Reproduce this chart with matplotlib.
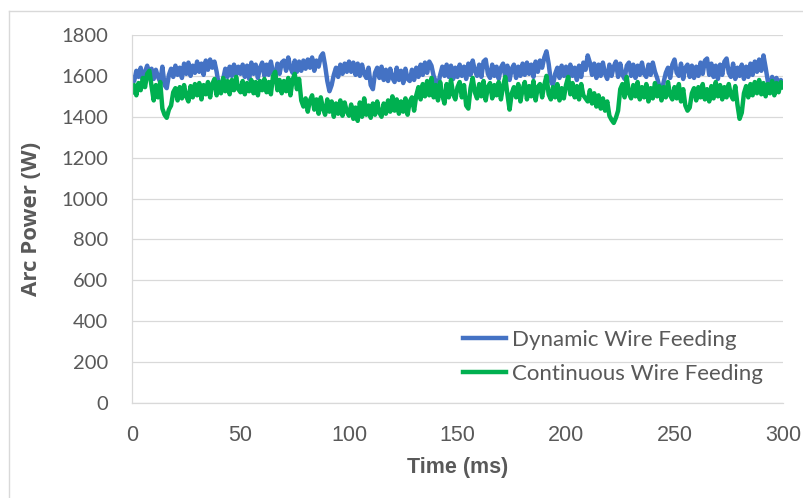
import numpy as np
import matplotlib
matplotlib.use("Agg")
import matplotlib.pyplot as plt
from matplotlib.lines import Line2D

dynamic_000 = [1590, 1575, 1625, 1595, 1640, 1580, 1620, 1650, 1600, 1635,
               1585, 1630, 1595, 1570, 1645, 1555, 1540, 1605, 1635, 1595,
               1650, 1605, 1640, 1590, 1660, 1610, 1665, 1600, 1650, 1615,
               1670, 1620, 1660, 1605, 1675, 1630, 1680, 1640, 1670, 1620,
               1555, 1540, 1585, 1635, 1595, 1645, 1600, 1655, 1605, 1645]
dynamic_050 = [1610, 1655, 1595, 1650, 1585, 1665, 1610, 1655, 1590, 1640,
               1665, 1600, 1655, 1605, 1670, 1615, 1595, 1660, 1610, 1665,
               1675, 1625, 1690, 1640, 1615, 1675, 1620, 1670, 1625, 1675,
               1635, 1680, 1640, 1690, 1625, 1675, 1645, 1695, 1710, 1650,
               1575, 1525, 1555, 1605, 1640, 1595, 1655, 1610, 1660, 1620]
dynamic_100 = [1670, 1620, 1665, 1605, 1660, 1600, 1655, 1610, 1590, 1640,
               1555, 1535, 1615, 1640, 1590, 1645, 1580, 1630, 1575, 1635,
               1590, 1570, 1640, 1580, 1625, 1565, 1635, 1585, 1575, 1630,
               1580, 1640, 1595, 1655, 1605, 1665, 1615, 1670, 1650, 1600,
               1570, 1550, 1605, 1645, 1600, 1655, 1595, 1650, 1585, 1640]
dynamic_150 = [1595, 1655, 1600, 1645, 1585, 1660, 1605, 1675, 1625, 1600,
               1655, 1595, 1670, 1680, 1610, 1590, 1655, 1600, 1645, 1585,
               1640, 1660, 1595, 1650, 1580, 1635, 1655, 1590, 1645, 1600,
               1660, 1605, 1665, 1610, 1655, 1595, 1670, 1620, 1675, 1640,
               1690, 1720, 1660, 1575, 1555, 1610, 1640, 1590, 1650, 1600]
dynamic_200 = [1645, 1585, 1655, 1600, 1640, 1580, 1650, 1595, 1665, 1630,
               1700, 1665, 1605, 1660, 1590, 1655, 1600, 1665, 1610, 1585,
               1655, 1600, 1645, 1670, 1595, 1660, 1605, 1585, 1650, 1665,
               1600, 1655, 1590, 1650, 1605, 1665, 1610, 1595, 1655, 1605,
               1665, 1620, 1590, 1550, 1520, 1570, 1615, 1640, 1590, 1655]
dynamic_250 = [1680, 1615, 1600, 1660, 1585, 1640, 1655, 1595, 1650, 1590,
               1645, 1600, 1665, 1610, 1675, 1685, 1605, 1660, 1595, 1650,
               1585, 1655, 1605, 1670, 1685, 1615, 1595, 1660, 1585, 1640,
               1600, 1655, 1585, 1645, 1595, 1660, 1605, 1670, 1620, 1680,
               1625, 1700, 1640, 1575, 1545, 1595, 1555, 1590, 1550, 1580,
               1560]

continuous_000 = [1520, 1555, 1505, 1565, 1530, 1590, 1545, 1610, 1625, 1550,
                  1480, 1555, 1495, 1570, 1440, 1410, 1395, 1435, 1455, 1520,
                  1540, 1480, 1545, 1490, 1555, 1500, 1475, 1550, 1495, 1560,
                  1505, 1565, 1485, 1555, 1510, 1570, 1495, 1560, 1585, 1505,
                  1570, 1515, 1590, 1525, 1575, 1510, 1580, 1530, 1595, 1535]
continuous_050 = [1520, 1575, 1510, 1565, 1525, 1580, 1515, 1570, 1505, 1575,
                  1530, 1585, 1520, 1570, 1510, 1600, 1620, 1530, 1580, 1515,
                  1575, 1525, 1590, 1505, 1580, 1610, 1535, 1585, 1480, 1450,
                  1490, 1425, 1480, 1505, 1435, 1485, 1415, 1495, 1440, 1410,
                  1485, 1425, 1475, 1400, 1465, 1415, 1480, 1405, 1470, 1425]
continuous_100 = [1405, 1460, 1390, 1445, 1380, 1470, 1400, 1490, 1410, 1455,
                  1395, 1465, 1410, 1475, 1420, 1400, 1465, 1415, 1480, 1425,
                  1500, 1430, 1485, 1415, 1475, 1425, 1490, 1410, 1475, 1495,
                  1430, 1505, 1545, 1485, 1560, 1500, 1575, 1505, 1590, 1495,
                  1555, 1480, 1570, 1505, 1465, 1560, 1495, 1580, 1510, 1485]
continuous_150 = [1545, 1570, 1495, 1555, 1455, 1440, 1540, 1590, 1520, 1490,
                  1560, 1500, 1575, 1480, 1545, 1565, 1490, 1555, 1505, 1570,
                  1485, 1550, 1595, 1510, 1435, 1515, 1545, 1495, 1560, 1475,
                  1535, 1570, 1485, 1550, 1500, 1575, 1480, 1545, 1560, 1495,
                  1555, 1600, 1510, 1485, 1545, 1495, 1560, 1480, 1540, 1490]
continuous_200 = [1555, 1595, 1510, 1565, 1495, 1550, 1485, 1560, 1505, 1490,
                  1475, 1530, 1465, 1515, 1450, 1505, 1440, 1490, 1430, 1475,
                  1405, 1385, 1370, 1395, 1430, 1535, 1560, 1495, 1595, 1515,
                  1490, 1555, 1500, 1570, 1485, 1545, 1495, 1560, 1475, 1540,
                  1490, 1565, 1500, 1550, 1480, 1545, 1495, 1570, 1505, 1485]
continuous_250 = [1545, 1490, 1560, 1475, 1535, 1455, 1430, 1445, 1515, 1540,
                  1480, 1545, 1495, 1560, 1485, 1535, 1475, 1550, 1490, 1570,
                  1500, 1555, 1485, 1545, 1495, 1560, 1505, 1485, 1550, 1460,
                  1390, 1420, 1515, 1550, 1495, 1560, 1505, 1570, 1515, 1580,
                  1510, 1565, 1500, 1560, 1515, 1575, 1505, 1565, 1520, 1570,
                  1545]

dynamic = (dynamic_000 + dynamic_050 + dynamic_100 + dynamic_150
           + dynamic_200 + dynamic_250)
continuous = (continuous_000 + continuous_050 + continuous_100
              + continuous_150 + continuous_200 + continuous_250)
time_ms = np.arange(len(dynamic))

x_ticks = [0, 50, 100, 150, 200, 250, 300]
y_ticks = [0, 200, 400, 600, 800, 1000, 1200, 1400, 1600, 1800]

plt.rcParams["font.family"] = ["Lato", "DejaVu Sans"]
narrow = ["Liberation Sans Narrow", "Liberation Sans", "DejaVu Sans"]
grey = "#595959"
grid = "#d9d9d9"

fig = plt.figure(figsize=(8.04, 4.98), dpi=100)
ax = fig.add_axes([132 / 804, 1 - 403 / 498, 651 / 804, 368 / 498])

ax.plot(time_ms, dynamic, color="#4472C4", lw=3.2, label="Dynamic Wire Feeding")
ax.plot(time_ms, continuous, color="#00B050", lw=3.2,
        label="Continuous Wire Feeding")

ax.set_xlim(0, 300)
ax.set_ylim(0, 1800)
ax.set_xticks(x_ticks)
ax.set_yticks(y_ticks)
ax.tick_params(axis="both", length=0, labelsize=14.5, colors=grey)
ax.tick_params(axis="y", pad=17)
ax.tick_params(axis="x", pad=16)
for lbl in ax.get_xticklabels():
    lbl.set_family(narrow)
    lbl.set_fontsize(15.5)
ax.grid(axis="y", color=grid, lw=0.9)
ax.set_axisbelow(True)
for side in ("top", "right"):
    ax.spines[side].set_visible(False)
for side in ("left", "bottom"):
    ax.spines[side].set_color(grid)
    ax.spines[side].set_linewidth(0.9)

ax.set_xlabel("Time (ms)", fontsize=15.5, fontweight="bold", color=grey,
              family=narrow)
ax.set_ylabel("Arc Power (W)", fontsize=16, fontweight="bold", color=grey,
              family=["Open Sans", "DejaVu Sans"])
ax.xaxis.set_label_coords(0.5, -0.148)
ax.yaxis.set_label_coords(-0.138, 0.5)

leg = ax.legend(loc="upper left", bbox_to_anchor=(0.508, 0.198), frameon=False,
                fontsize=16, handlelength=1.95, handletextpad=0.25,
                labelspacing=0.62, borderpad=0, borderaxespad=0)
for txt in leg.get_texts():
    txt.set_color(grey)

# light outer chart border (left and top edges visible in the reference)
fig.add_artist(Line2D([9 / 804, 9 / 804], [0, 1 - 11 / 498], color=grid, lw=1))
fig.add_artist(Line2D([9 / 804, 1], [1 - 11 / 498, 1 - 11 / 498], color=grid, lw=1))

fig.savefig("out.png", dpi=100)
